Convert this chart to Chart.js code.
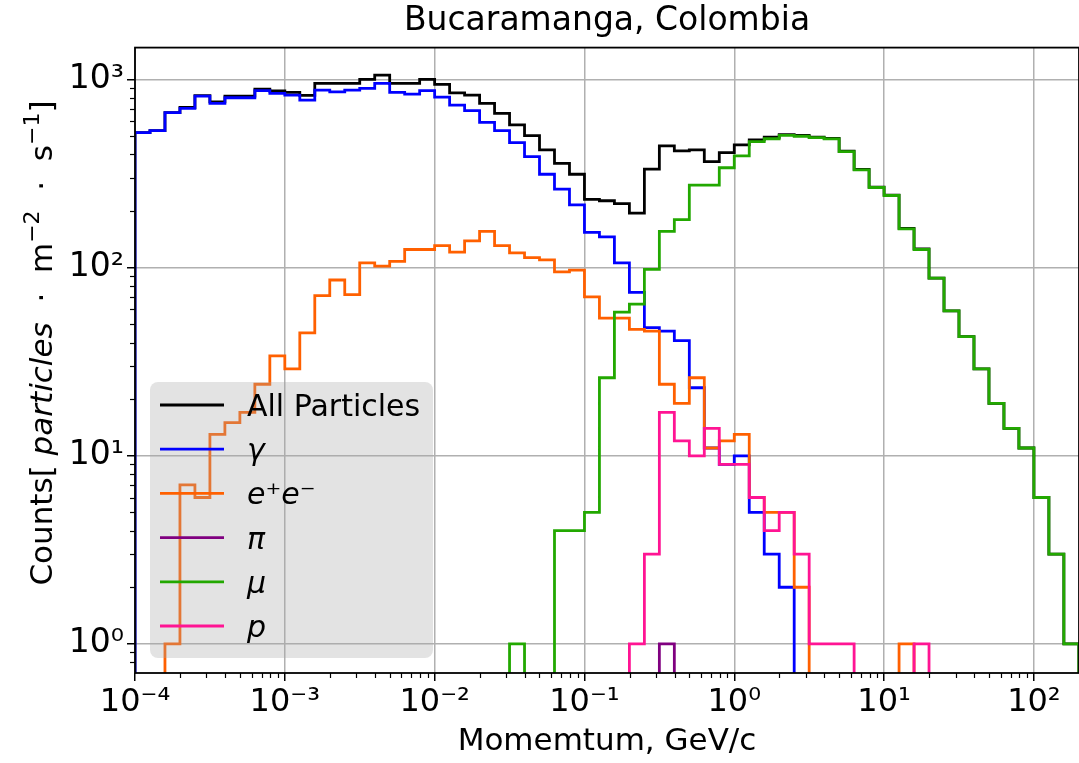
<!DOCTYPE html>
<html>
<head>
<meta charset="utf-8">
<script src="https://cdn.jsdelivr.net/npm/chart.js@4.4.0/dist/chart.umd.min.js"></script>
<style>
  html, body { margin: 0; padding: 0; background: #fff; }
</style>
</head>
<body>
<canvas id="chart" width="1079" height="763"></canvas>
<script>
// log10 of the histogram bin edges, 10 bins per decade
const binLogEdges = [
  -4.0, -3.9, -3.8, -3.7, -3.6, -3.5, -3.4, -3.3, -3.2, -3.1,
  -3.0, -2.9, -2.8, -2.7, -2.6, -2.5, -2.4, -2.3, -2.2, -2.1,
  -2.0, -1.9, -1.8, -1.7, -1.6, -1.5, -1.4, -1.3, -1.2, -1.1,
  -1.0, -0.9, -0.8, -0.7, -0.6, -0.5, -0.4, -0.3, -0.2, -0.1,
  0.0, 0.1, 0.2, 0.3, 0.4, 0.5, 0.6, 0.7, 0.8, 0.9,
  1.0, 1.1, 1.2, 1.3, 1.4, 1.5, 1.6, 1.7, 1.8, 1.9,
  2.0, 2.1, 2.2, 2.3
];

const allCounts = [
  522, 535, 668, 711, 823, 761, 816, 818, 890, 870,
  855, 825, 955, 955, 955, 1002, 1057, 955, 955, 1003,
  943, 851, 828, 748, 662, 574, 504, 423, 359, 314,
  231, 227, 219, 195, 334, 444, 418, 423, 366, 409,
  450, 478, 494, 510, 505, 495, 487, 416, 333, 268,
  243, 162, 126, 88, 59, 43, 29, 19, 14, 11,
  6, 3, 1
];
const gammaCounts = [
  522, 535, 667, 704, 817, 748, 801, 801, 873, 845,
  827, 778, 880, 861, 880, 898, 955, 855, 838, 873,
  808, 731, 684, 592, 535, 462, 390, 314, 262, 216,
  154, 146, 106, 74, 48, 46, 41, 23, 11, 9,
  10, 5, 3, 2, 0, 0, 0, 0, 0, 0,
  0, 0, 0, 0, 0, 0, 0, 0, 0, 0,
  0, 0, 0
];
const electronCounts = [
  0, 0, 1, 7, 6, 13, 15, 17, 24, 34,
  29, 45, 71, 86, 72, 106, 102, 108, 125, 125,
  131, 121, 139, 156, 131, 120, 113, 110, 95, 97,
  70, 54, 54, 47, 46, 24, 19, 26, 11, 12,
  13, 6, 5, 5, 2, 0, 0, 0, 0, 0,
  0, 1, 0, 0, 0, 0, 0, 0, 0, 0,
  0, 0, 0
];
const pionCounts = [
  0, 0, 0, 0, 0, 0, 0, 0, 0, 0,
  0, 0, 0, 0, 0, 0, 0, 0, 0, 0,
  0, 0, 0, 0, 0, 0, 0, 0, 0, 0,
  0, 0, 0, 0, 0, 1, 0, 0, 0, 0,
  0, 0, 0, 0, 0, 0, 0, 0, 0, 0,
  0, 0, 0, 0, 0, 0, 0, 0, 0, 0,
  0, 0, 0
];
const muonCounts = [
  0, 0, 0, 0, 0, 0, 0, 0, 0, 0,
  0, 0, 0, 0, 0, 0, 0, 0, 0, 0,
  0, 0, 0, 0, 0, 1, 0, 0, 4, 4,
  5, 26, 58, 64, 98, 156, 180, 275, 275, 340,
  393, 468, 485, 505, 500, 491, 484, 414, 331, 267,
  242, 161, 125, 88, 59, 43, 29, 19, 14, 11,
  6, 3, 1
];
const protonCounts = [
  0, 0, 0, 0, 0, 0, 0, 0, 0, 0,
  0, 0, 0, 0, 0, 0, 0, 0, 0, 0,
  0, 0, 0, 0, 0, 0, 0, 0, 0, 0,
  0, 0, 0, 1, 3, 17, 12, 10, 14, 9,
  9, 6, 4, 5, 3, 1, 1, 1, 0, 0,
  0, 0, 1, 0, 0, 0, 0, 0, 0, 0,
  0, 0, 0
];

const xTickValues = [1e-4, 1e-3, 1e-2, 1e-1, 1, 10, 100];
const xTickLabels = ['10⁻⁴', '10⁻³', '10⁻²', '10⁻¹', '10⁰', '10¹', '10²'];
const yTickValues = [1, 10, 100, 1000];
const yTickLabels = ['10⁰', '10¹', '10²', '10³'];

const X_MIN = 1e-4, X_MAX = 200;
const Y_MIN = 0.71, Y_MAX = 1480;
const ZERO_FLOOR = 0.01; // empty bins drop below the axis, like the step outline in matplotlib
const LINE_W = 2.8;
const FONT = 'DejaVu Sans';

const binEdges = binLogEdges.map(e => Math.pow(10, e));

// histogram outline: up from the floor, one point per bin, down at the last edge
function stepPoints(counts) {
    const lift = c => (c > 0 ? c : ZERO_FLOOR);
    const pts = [{ x: binEdges[0], y: ZERO_FLOOR }];
    counts.forEach((c, i) => pts.push({ x: binEdges[i], y: lift(c) }));
    const n = counts.length;
    pts.push({ x: binEdges[n], y: lift(counts[n - 1]) });
    pts.push({ x: binEdges[n], y: ZERO_FLOOR });
    return pts;
}

const series = [
    { label: 'All Particles', counts: allCounts, color: '#000000', italic: false },
    { label: 'γ', counts: gammaCounts, color: '#0000ff', italic: true },
    { label: 'e⁺e⁻', counts: electronCounts, color: '#ff6000', italic: true },
    { label: 'π', counts: pionCounts, color: '#800080', italic: true },
    { label: 'μ', counts: muonCounts, color: '#22a800', italic: true },
    { label: 'p', counts: protonCounts, color: '#ff1493', italic: true },
];

function minorValues(min, max) {
    const out = [];
    for (let n = -5; n <= 3; n++) {
        for (let m = 2; m <= 9; m++) {
            const v = m * Math.pow(10, n);
            if (v > min && v < max) out.push(v);
        }
    }
    return out;
}

// spines, minor ticks and the legend box go on top of the lines
const frameAndLegend = {
    id: 'frameAndLegend',
    afterDatasetsDraw(chart) {
        const { ctx, chartArea: a, scales } = chart;
        ctx.save();

        ctx.strokeStyle = '#000';
        ctx.lineWidth = 1.2;
        minorValues(X_MIN, X_MAX).forEach(v => {
            const x = Math.round(scales.x.getPixelForValue(v)) + 0.5;
            ctx.beginPath();
            ctx.moveTo(x, a.bottom);
            ctx.lineTo(x, a.bottom + 5);
            ctx.stroke();
        });
        minorValues(Y_MIN, Y_MAX).forEach(v => {
            const y = Math.round(scales.y.getPixelForValue(v)) + 0.5;
            ctx.beginPath();
            ctx.moveTo(a.left, y);
            ctx.lineTo(a.left - 5, y);
            ctx.stroke();
        });

        ctx.lineWidth = 1.8;
        ctx.strokeRect(a.left, a.top, a.right - a.left, a.bottom - a.top);

        // legend, lower left
        const box = { x: 150, y: 382, w: 283, h: 276, r: 8 };
        ctx.fillStyle = 'rgba(169, 169, 169, 0.32)';
        ctx.beginPath();
        ctx.roundRect(box.x, box.y, box.w, box.h, box.r);
        ctx.fill();

        const rowTop = 405, rowStep = 44.2;
        ctx.textAlign = 'left';
        ctx.textBaseline = 'alphabetic';
        series.forEach((s, i) => {
            const y = rowTop + i * rowStep;
            ctx.strokeStyle = s.color;
            ctx.lineWidth = LINE_W;
            ctx.beginPath();
            ctx.moveTo(160, y);
            ctx.lineTo(224, y);
            ctx.stroke();
            ctx.fillStyle = '#000';
            ctx.font = (s.italic ? 'italic ' : '') + '30px "' + FONT + '"';
            ctx.fillText(s.label, 247, y + 11);
        });
        ctx.restore();
    }
};

// y label with the italic word and superscripts
const yAxisLabel = {
    id: 'yAxisLabel',
    afterDraw(chart) {
        const { ctx } = chart;
        const size = 31;
        const sup = Math.round(size * 0.72);
        const parts = [
            { text: 'Counts[ ', font: size + 'px "' + FONT + '"', dy: 0 },
            { text: 'particles', font: 'italic ' + size + 'px "' + FONT + '"', dy: 0 },
            { text: '  ·  m', font: size + 'px "' + FONT + '"', dy: 0 },
            { text: '−2', font: sup + 'px "' + FONT + '"', dy: -13 },
            { text: '  ·  s', font: size + 'px "' + FONT + '"', dy: 0 },
            { text: '−1', font: sup + 'px "' + FONT + '"', dy: -13 },
            { text: ']', font: size + 'px "' + FONT + '"', dy: 0 },
        ];
        ctx.save();
        let total = 0;
        parts.forEach(p => { ctx.font = p.font; p.w = ctx.measureText(p.text).width; total += p.w; });
        ctx.translate(52, 343);
        ctx.rotate(-Math.PI / 2);
        ctx.fillStyle = '#000';
        ctx.textBaseline = 'alphabetic';
        ctx.textAlign = 'left';
        let x = -total / 2;
        parts.forEach(p => {
            ctx.font = p.font;
            ctx.fillText(p.text, x, p.dy);
            x += p.w;
        });
        ctx.restore();
    }
};

Chart.defaults.font.family = FONT;
Chart.defaults.color = '#000';

const chart = new Chart(document.getElementById('chart').getContext('2d'), {
    type: 'line',
    data: {
        datasets: series.map((s, i) => ({
            label: s.label,
            data: stepPoints(s.counts),
            borderColor: s.color,
            backgroundColor: s.color,
            borderWidth: LINE_W,
            stepped: 'before',
            pointRadius: 0,
            fill: false,
            clip: 0,
            order: series.length - i,
        }))
    },
    options: {
        responsive: false,
        animation: false,
        layout: { padding: 0 },
        plugins: {
            legend: { display: false },
            tooltip: { enabled: false },
            title: {
                display: true,
                text: 'Bucaramanga, Colombia',
                fullSize: false,
                color: '#000',
                font: { size: 33, weight: 'normal' },
                padding: { top: 2, bottom: 6 }
            }
        },
        scales: {
            x: {
                type: 'logarithmic',
                min: X_MIN,
                max: X_MAX,
                afterBuildTicks: scale => {
                    scale.ticks = xTickValues.map(v => ({ value: v, major: true }));
                },
                afterFit: scale => { scale.height = 90; },
                ticks: {
                    autoSkip: false,
                    maxRotation: 0,
                    color: '#000',
                    font: { size: 32 },
                    padding: 2,
                    callback: (v, i) => xTickLabels[i]
                },
                grid: { color: '#b0b0b0', lineWidth: 1.5, tickColor: '#000', tickWidth: 1.5, tickLength: 8 },
                border: { display: false },
                title: {
                    display: true,
                    text: 'Momemtum, GeV/c',
                    color: '#000',
                    font: { size: 31 },
                    padding: { top: 0, bottom: 2 }
                }
            },
            y: {
                type: 'logarithmic',
                min: Y_MIN,
                max: Y_MAX,
                afterBuildTicks: scale => {
                    scale.ticks = yTickValues.map(v => ({ value: v, major: true }));
                },
                afterFit: scale => { scale.width = 135; },
                ticks: {
                    autoSkip: false,
                    color: '#000',
                    font: { size: 33 },
                    padding: 3,
                    callback: (v, i) => yTickLabels[i]
                },
                grid: { color: '#b0b0b0', lineWidth: 1.5, tickColor: '#000', tickWidth: 1.5, tickLength: 8 },
                border: { display: false }
            }
        }
    },
    plugins: [frameAndLegend, yAxisLabel]
});
</script>
</body>
</html>
